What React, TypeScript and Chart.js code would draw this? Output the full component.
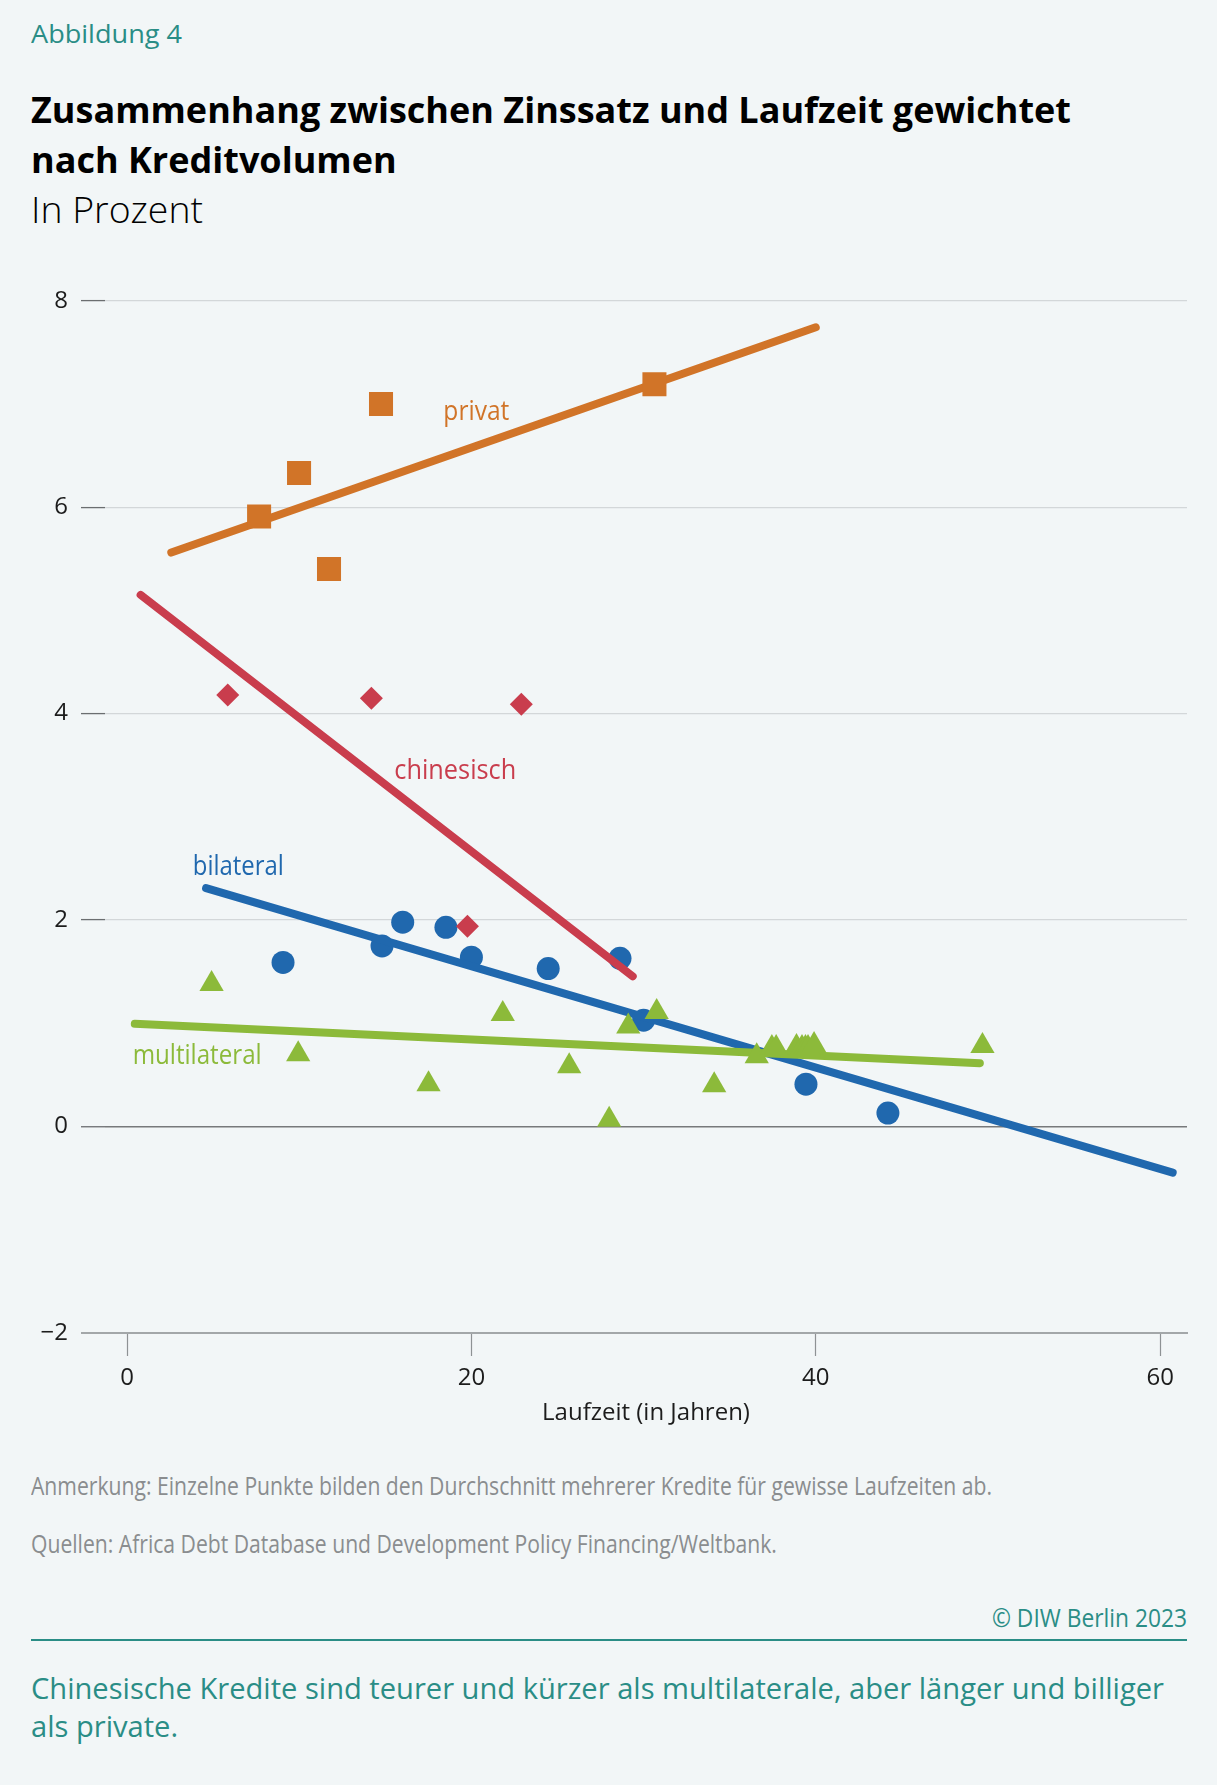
import React, { useEffect, useRef } from 'react';
import { Chart, registerables } from 'chart.js';

Chart.register(...registerables);

const FONT = '"Open Sans", "Noto Sans", "DejaVu Sans", sans-serif';

// ---------- data ----------
const privatX = [7.67, 9.99, 11.73, 14.75, 30.63];
const privatY = [5.91, 6.33, 5.4, 7.0, 7.19];

const chinaX = [5.85, 14.19, 19.77, 22.9];
const chinaY = [4.18, 4.15, 1.94, 4.09];

const bilatX = [9.06, 14.81, 16.01, 18.52, 20.0, 24.46, 28.63, 30.0, 39.43, 44.19];
const bilatY = [1.59, 1.75, 1.98, 1.93, 1.64, 1.53, 1.63, 1.03, 0.41, 0.13];

const multiX = [4.91, 9.94, 17.51, 21.82, 25.68, 28.0, 29.11, 30.76, 34.1, 36.57, 37.45, 37.7, 38.88, 39.2, 39.4, 39.55, 39.9, 49.68];
const multiY = [1.38, 0.7, 0.41, 1.09, 0.585, 0.065, 0.97, 1.11, 0.4, 0.68, 0.76, 0.76, 0.77, 0.76, 0.76, 0.76, 0.79, 0.78];

// trend lines (start / end)
const privatLineX = [2.57, 40.0];
const privatLineY = [5.56, 7.742];
const chinaLineX = [0.79, 29.37];
const chinaLineY = [5.15, 1.455];
const bilatLineX = [4.59, 60.73];
const bilatLineY = [2.31, -0.447];
const multiLineX = [0.45, 49.53];
const multiLineY = [0.995, 0.614];

const xTicks = [0, 20, 40, 60];
const yTicks = [-2, 0, 2, 4, 6, 8];

const seriesLabels = ['privat', 'chinesisch', 'bilateral', 'multilateral'];
const seriesLabelX = [18.37, 15.52, 3.82, 0.325];
const seriesLabelY = [6.845, 3.365, 2.44, 0.607];

// ---------- texts ----------
const FIG_LABEL = 'Abbildung 4';
const TITLE_1 = 'Zusammenhang zwischen Zinssatz und Laufzeit gewichtet';
const TITLE_2 = 'nach Kreditvolumen';
const SUBTITLE = 'In Prozent';
const X_TITLE = 'Laufzeit (in Jahren)';
const NOTE = 'Anmerkung: Einzelne Punkte bilden den Durchschnitt mehrerer Kredite für gewisse Laufzeiten ab.';
const SOURCE = 'Quellen: Africa Debt Database und Development Policy Financing/Weltbank.';
const COPYRIGHT = '© DIW Berlin 2023';
const TAKEAWAY_1 = 'Chinesische Kredite sind teurer und kürzer als multilaterale, aber länger und billiger';
const TAKEAWAY_2 = 'als private.';

// ---------- styles ----------
const C = {
  bg: '#f2f6f7',
  teal: '#2a8d86',
  gray: '#8a8d8f',
  orange: '#d17428',
  red: '#c93d4d',
  blue: '#2068ae',
  green: '#8cba3a',
  ink: '#1c1c1c',
};
const LABEL_COLORS = [C.orange, C.red, C.blue, C.green];
const LABEL_WIDTHS = [66, 122, 91, 129];

let measureCtx: CanvasRenderingContext2D | null = null;
function measure(text: string, size: number, weight: number) {
  if (!measureCtx) measureCtx = document.createElement('canvas').getContext('2d');
  const c = measureCtx!;
  c.font = `${weight} ${size}px ${FONT}`;
  const m = c.measureText(text);
  const A = (m as any).fontBoundingBoxAscent ?? size * 1.069;
  const D = (m as any).fontBoundingBoxDescent ?? size * 0.293;
  return { w: m.width, A, D };
}
function fitScale(text: string, size: number, weight: number, width: number) {
  return width / measure(text, size, weight).w;
}

type TxtProps = {
  text: string;
  x: number;
  baseline: number;
  size: number;
  weight?: number;
  color: string;
  scale: number;
  align?: 'left' | 'right';
};
function Txt({ text, x, baseline, size, weight = 400, color, scale, align = 'left' }: TxtProps) {
  const m = measure(text, size, weight);
  const L = Math.ceil(size * 1.4);
  const top = baseline - ((L - (m.A + m.D)) / 2 + m.A);
  const w = m.w * scale;
  const left = align === 'right' ? x - w : x;
  return (
    <div
      style={{
        position: 'absolute',
        left,
        top,
        fontFamily: FONT,
        fontSize: size,
        fontWeight: weight,
        lineHeight: `${L}px`,
        color,
        whiteSpace: 'nowrap',
        transform: `scaleX(${scale})`,
        transformOrigin: '0 0',
      }}
    >
      {text}
    </div>
  );
}

const pts = (xs: number[], ys: number[]) => xs.map((x, i) => ({ x, y: ys[i] }));

const labelPlugin = {
  id: 'seriesLabels',
  afterDatasetsDraw(chart: any) {
    const { ctx, scales } = chart;
    const size = 27;
    ctx.save();
    ctx.font = `400 ${size}px ${FONT}`;
    ctx.textBaseline = 'alphabetic';
    ctx.textAlign = 'left';
    seriesLabels.forEach((t, i) => {
      const px = scales.x.getPixelForValue(seriesLabelX[i]);
      const py = scales.y.getPixelForValue(seriesLabelY[i]);
      const s = LABEL_WIDTHS[i] / ctx.measureText(t).width;
      ctx.save();
      ctx.translate(px, py);
      ctx.scale(s, 1);
      ctx.fillStyle = LABEL_COLORS[i];
      ctx.fillText(t, 0, 0);
      ctx.restore();
    });
    ctx.restore();
  },
};

const fmt = (v: number) => (v < 0 ? '\u2212' + Math.abs(v) : String(v));

function ScatterChart() {
  const ref = useRef<HTMLCanvasElement>(null);
  useEffect(() => {
    if (!ref.current) return;
    const lineDs = (xs: number[], ys: number[], color: string, order: number) => ({
      data: pts(xs, ys),
      showLine: true,
      borderColor: color,
      backgroundColor: color,
      borderWidth: 8,
      borderCapStyle: 'round',
      pointRadius: 0,
      pointHoverRadius: 0,
      fill: false,
      order,
    });
    const pointDs = (xs: number[], ys: number[], color: string, style: string, r: number, order: number) => ({
      data: pts(xs, ys),
      showLine: false,
      pointStyle: style,
      pointRadius: r,
      pointHoverRadius: r,
      backgroundColor: color,
      borderColor: color,
      pointBorderWidth: 0,
      borderWidth: 0,
      order,
    });
    const chart = new Chart(ref.current, {
      type: 'scatter',
      data: {
        datasets: [
          pointDs(privatX, privatY, C.orange, 'rect', 17, 0),
          lineDs(privatLineX, privatLineY, C.orange, 1),
          pointDs(chinaX, chinaY, C.red, 'rectRot', 11.5, 2),
          pointDs(multiX, multiY, C.green, 'triangle', 14, 3),
          lineDs(multiLineX, multiLineY, C.green, 4),
          lineDs(bilatLineX, bilatLineY, C.blue, 5),
          lineDs(chinaLineX, chinaLineY, C.red, 6),
          pointDs(bilatX, bilatY, C.blue, 'circle', 11.5, 7),
        ] as any,
      },
      options: {
        animation: false,
        responsive: true,
        maintainAspectRatio: false,
        events: [],
        layout: { padding: { top: 50.7, right: 30, left: 0, bottom: 0 } },
        plugins: { legend: { display: false }, tooltip: { enabled: false }, title: { display: false } },
        scales: {
          x: {
            type: 'linear',
            min: -1.28,
            max: 61.56,
            afterBuildTicks: (s: any) => {
              s.ticks = xTicks.map((v) => ({ value: v }));
            },
            afterFit: (s: any) => {
              s.height = 117;
            },
            grid: {
              drawOnChartArea: false,
              drawTicks: true,
              tickLength: 23,
              tickColor: '#8e9294',
              tickWidth: 1.2,
            },
            border: { display: true, color: '#a3a7a9', width: 2 },
            ticks: {
              font: { family: FONT, size: 24 },
              color: C.ink,
              padding: 8,
              maxRotation: 0,
              callback: (v: any) => fmt(Number(v)),
            },
            title: {
              display: true,
              text: X_TITLE,
              font: { family: FONT, size: 24 },
              color: C.ink,
              padding: { top: 0, bottom: 22.6 },
            },
          },
          y: {
            type: 'linear',
            min: -2,
            max: 8,
            afterBuildTicks: (s: any) => {
              s.ticks = yTicks.map((v) => ({ value: v }));
            },
            afterFit: (s: any) => {
              s.width = 105;
            },
            grid: {
              drawTicks: true,
              tickLength: 24,
              color: (c: any) => (c.tick && c.tick.value === 0 ? '#77797b' : c.tick && c.tick.value === -2 ? '#a3a7a9' : '#d3d7d9'),
              lineWidth: (c: any) => (c.tick && c.tick.value === 0 ? 1.5 : c.tick && c.tick.value === -2 ? 2 : 1.2),
              tickColor: (c: any) => (c.tick && c.tick.value === -2 ? '#a3a7a9' : '#6b6e70'),
              tickWidth: (c: any) => (c.tick && c.tick.value === -2 ? 2 : 1.3),
            },
            border: { display: false },
            ticks: {
              font: { family: FONT, size: 24 },
              color: C.ink,
              padding: 13,
              callback: (v: any) => fmt(Number(v)),
            },
          },
        },
      } as any,
      plugins: [labelPlugin],
    });
    return () => chart.destroy();
  }, []);
  return (
    <div style={{ position: 'absolute', left: 0, top: 250, width: 1217, height: 1200 }}>
      <canvas ref={ref} />
    </div>
  );
}

export default function App() {
  useEffect(() => {
    document.body.style.margin = '0';
    document.body.style.background = C.bg;
  }, []);
  const titleScale = fitScale(TITLE_1, 36, 700, 1040);
  const noteScale = fitScale(NOTE, 25, 400, 961);
  const takeScale = fitScale(TAKEAWAY_1, 29, 400, 1133);
  const figScale = fitScale(FIG_LABEL, 25, 400, 151);
  const subScale = fitScale(SUBTITLE, 36, 300, 172);
  const copyScale = fitScale(COPYRIGHT, 25, 400, 195);
  return (
    <div style={{ position: 'relative', width: 1217, height: 1785, background: C.bg, overflow: 'hidden' }}>
      <Txt text={FIG_LABEL} x={31} baseline={43.3} size={25} color={C.teal} scale={figScale} />
      <Txt text={TITLE_1} x={31} baseline={123.3} size={36} weight={700} color="#000" scale={titleScale} />
      <Txt text={TITLE_2} x={31} baseline={173.3} size={36} weight={700} color="#000" scale={titleScale} />
      <Txt text={SUBTITLE} x={31} baseline={223.3} size={36} weight={300} color="#000" scale={subScale} />
      <ScatterChart />
      <Txt text={NOTE} x={31} baseline={1495} size={25} color={C.gray} scale={noteScale} />
      <Txt text={SOURCE} x={31} baseline={1553} size={25} color={C.gray} scale={noteScale} />
      <Txt text={COPYRIGHT} x={1187} baseline={1627} size={25} color={C.teal} scale={copyScale} align="right" />
      <div style={{ position: 'absolute', left: 31, top: 1639, width: 1156, height: 2, background: C.teal }} />
      <Txt text={TAKEAWAY_1} x={31} baseline={1699} size={29} color={C.teal} scale={takeScale} />
      <Txt text={TAKEAWAY_2} x={31} baseline={1737} size={29} color={C.teal} scale={takeScale} />
    </div>
  );
}
